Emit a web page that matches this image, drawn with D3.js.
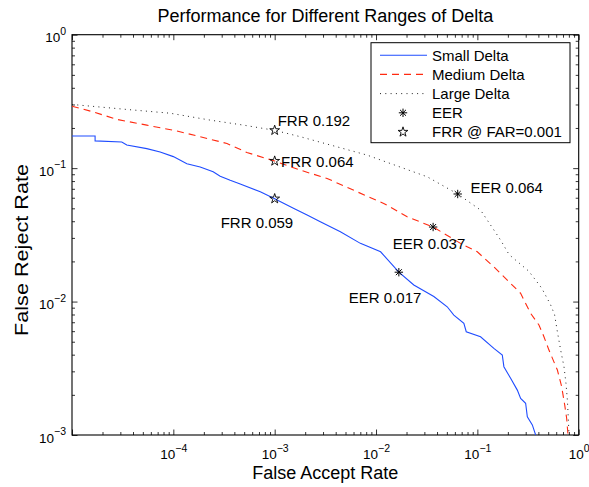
<!DOCTYPE html>
<html>
<head>
<meta charset="utf-8">
<script src="https://cdn.jsdelivr.net/npm/d3@7"></script>
<style>
  body { margin: 0; background: white; }
  svg { display: block; font-family: "Liberation Sans", Arial, Helvetica, sans-serif; }
</style>
</head>
<body>
<div id="chart"></div>
<script>
// Data (FAR, FRR pairs)
const smallFAR = [1e-5, 1.69e-5, 1.69e-5, 3.1e-5, 3.47e-5, 5.47e-5, 7.41e-5, 1.0e-4, 1.36e-4, 1.84e-4, 2.47e-4, 2.9e-4, 3.64e-4, 4.57e-4, 7.21e-4, 1.0e-3, 1.53e-3, 2.09e-3, 2.82e-3, 4.45e-3, 7.01e-3, 0.0111, 0.0168, 0.0236, 0.0372, 0.0504, 0.0586, 0.0736, 0.0777, 0.1075, 0.1455, 0.1762, 0.1827, 0.2129, 0.2479, 0.2673, 0.2995, 0.3113, 0.3487, 0.3759];
const smallFRR = [0.174, 0.174, 0.160, 0.157, 0.149, 0.140, 0.132, 0.122, 0.108, 0.102, 0.094, 0.087, 0.081, 0.076, 0.0665, 0.059, 0.050, 0.0445, 0.0396, 0.0333, 0.0273, 0.0236, 0.0166, 0.0133, 0.0109, 0.00914, 0.00792, 0.00687, 0.00594, 0.00545, 0.00446, 0.00398, 0.00325, 0.00266, 0.00217, 0.00188, 0.00173, 0.00137, 0.00119, 0.001];

const mediumFAR = [1e-5, 1.62e-5, 2.76e-5, 5.47e-5, 1.08e-4, 1.84e-4, 3.38e-4, 5.32e-4, 1.0e-3, 1.79e-3, 3.29e-3, 6.5e-3, 0.01192, 0.0203, 0.0366, 0.0682, 0.0998, 0.1455, 0.1974, 0.2673, 0.288, 0.3355, 0.4053, 0.454, 0.5086, 0.6161, 0.6792, 0.7275, 0.761, 0.784];
const mediumFRR = [0.291, 0.264, 0.232, 0.210, 0.190, 0.172, 0.153, 0.131, 0.113, 0.0966, 0.0837, 0.0665, 0.0544, 0.0432, 0.0362, 0.0273, 0.0236, 0.0182, 0.01449, 0.01152, 0.01026, 0.00816, 0.00667, 0.00545, 0.00433, 0.00307, 0.0023, 0.00168, 0.00133, 0.001];

const largeFAR = [1e-5, 3.47e-5, 9.3e-5, 2.31e-4, 4.93e-4, 1.0e-3, 1.79e-3, 8.17e-3, 0.032, 0.064, 0.1075, 0.1696, 0.2055, 0.3215, 0.4318, 0.5267, 0.5776, 0.6161, 0.6639, 0.7159, 0.7489, 0.7731, 0.791, 0.802];
const largeFRR = [0.30, 0.2753, 0.258, 0.229, 0.210, 0.192, 0.172, 0.1252, 0.0861, 0.064, 0.0485, 0.0289, 0.0225, 0.0169, 0.0126, 0.0095, 0.0080, 0.00594, 0.00433, 0.00325, 0.00244, 0.00183, 0.0013, 0.001];

// marker points: Large, Medium, Small
const eerFAR = [0.064, 0.0366, 0.0168];
const eerFRR = [0.064, 0.0362, 0.0166];
const eerLabels = ["EER 0.064", "EER 0.037", "EER 0.017"];
const frrFAR = [0.001, 0.001, 0.001];
const frrFRR = [0.192, 0.113, 0.059];
const frrLabels = ["FRR 0.192", "FRR 0.064", "FRR 0.059"];

const seriesNames = ["Small Delta", "Medium Delta", "Large Delta"];
const legendExtra = ["EER", "FRR @ FAR=0.001"];
const xTickExps = [-4, -3, -2, -1, 0];
const yTickExps = [-3, -2, -1, 0];

const width = 589, height = 487;
const margin = { top: 34.7, right: 10.3, bottom: 52, left: 72 };

const svg = d3.select("#chart").append("svg")
  .attr("width", width)
  .attr("height", height)
  .style("background-color", "white");

const x = d3.scaleLog().domain([1e-5, 1]).range([margin.left, width - margin.right]);
const y = d3.scaleLog().domain([1e-3, 1]).range([height - margin.bottom, margin.top]);

const x0 = x.range()[0], x1 = x.range()[1];
const y0 = y.range()[0], y1 = y.range()[1];

svg.append("clipPath").attr("id", "plotclip")
  .append("rect").attr("x", x0).attr("y", y1).attr("width", x1 - x0).attr("height", y0 - y1);

// tick values
const majorX = d3.range(-5, 1).map(e => Math.pow(10, e));
const majorY = d3.range(-3, 1).map(e => Math.pow(10, e));
const minorOf = majors => majors.slice(0, -1).flatMap(m => d3.range(2, 10).map(k => k * m));
const minorX = minorOf(majorX);
const minorY = minorOf(majorY);

function tickAxis(axisFn, scale, values, size, translate) {
  const g = svg.append("g")
    .attr("transform", translate)
    .call(axisFn(scale).tickValues(values).tickSize(size).tickFormat(""));
  g.select(".domain").remove();
  g.selectAll("line").attr("stroke", "#000").attr("stroke-width", 0.8);
  return g;
}

// inward ticks on all four sides
tickAxis(d3.axisBottom, x, majorX, -5.5, `translate(0,${y0})`);
tickAxis(d3.axisBottom, x, minorX, -3, `translate(0,${y0})`);
tickAxis(d3.axisTop, x, majorX, -5.5, `translate(0,${y1})`);
tickAxis(d3.axisTop, x, minorX, -3, `translate(0,${y1})`);
tickAxis(d3.axisLeft, y, majorY, -5.5, `translate(${x0},0)`);
tickAxis(d3.axisLeft, y, minorY, -3, `translate(${x0},0)`);
tickAxis(d3.axisRight, y, majorY, -5.5, `translate(${x1},0)`);
tickAxis(d3.axisRight, y, minorY, -3, `translate(${x1},0)`);

// tick labels with superscript exponents
function addExponent(sel) {
  sel.each(function (d) {
    const e = Math.round(Math.log10(d));
    d3.select(this).append("tspan")
      .attr("dy", -7.5).attr("font-size", 10.5)
      .text(e < 0 ? "\u2212" + Math.abs(e) : String(e));
  });
}

const xLabels = svg.append("g")
  .attr("transform", `translate(0,${y0})`)
  .call(d3.axisBottom(x).tickValues(xTickExps.map(e => Math.pow(10, e))).tickSize(0).tickPadding(0).tickFormat(() => "10"));
xLabels.select(".domain").remove();
xLabels.selectAll(".tick text")
  .attr("y", 24).attr("dy", 0)
  .attr("font-size", 13.5).attr("fill", "#000")
  .call(addExponent);
xLabels.attr("font-family", null);

const yLabels = svg.append("g")
  .attr("transform", `translate(${x0},0)`)
  .call(d3.axisLeft(y).tickValues(yTickExps.map(e => Math.pow(10, e))).tickSize(0).tickPadding(0).tickFormat(() => "10"));
yLabels.select(".domain").remove();
yLabels.selectAll(".tick text")
  .attr("x", -6).attr("dy", 0).attr("y", 7)
  .attr("font-size", 13.5).attr("fill", "#000")
  .call(addExponent);
yLabels.attr("font-family", null);

// box
svg.append("rect")
  .attr("x", x0).attr("y", y1)
  .attr("width", x1 - x0).attr("height", y0 - y1)
  .attr("fill", "none").attr("stroke", "#000").attr("stroke-width", 1.1);

// curves
const styles = [
  { color: "#1f4cff", dash: null, width: 1.1 },
  { color: "#ff2a10", dash: "7,5", width: 1.1 },
  { color: "#222", dash: "1,4.3", width: 1 }
];
const curves = [
  d3.zip(smallFAR, smallFRR),
  d3.zip(mediumFAR, mediumFRR),
  d3.zip(largeFAR, largeFRR)
];

const lineGenerator = d3.line()
  .x(d => x(d[0]))
  .y(d => y(d[1]));

const plot = svg.append("g").attr("clip-path", "url(#plotclip)");
curves.forEach((c, i) => {
  plot.append("path")
    .attr("d", lineGenerator(c))
    .attr("fill", "none")
    .attr("stroke", styles[i].color)
    .attr("stroke-width", styles[i].width)
    .attr("stroke-dasharray", styles[i].dash);
});

// marker shapes
function asteriskPath(r) {
  let p = "";
  [0, 45, 90, 135].forEach(a => {
    const rad = a * Math.PI / 180;
    const dx = r * Math.cos(rad), dy = r * Math.sin(rad);
    p += `M${-dx},${-dy}L${dx},${dy}`;
  });
  return p;
}
const starPath = d3.symbol().type(d3.symbolStar).size(30)();

const eerPts = d3.zip(eerFAR, eerFRR);
const frrPts = d3.zip(frrFAR, frrFRR);

svg.selectAll(".eer").data(eerPts).join("path")
  .attr("class", "eer")
  .attr("transform", d => `translate(${x(d[0])},${y(d[1])})`)
  .attr("d", asteriskPath(4.2))
  .attr("stroke", "#000").attr("stroke-width", 1).attr("fill", "none");

svg.selectAll(".frr").data(frrPts).join("path")
  .attr("class", "frr")
  .attr("transform", d => `translate(${x(d[0])},${y(d[1])})`)
  .attr("d", starPath)
  .attr("stroke", "#000").attr("stroke-width", 0.9).attr("fill", "none");

// annotation text, offset in px from its marker
const eerOffsets = [[12.7, -0.7], [-40.4, 22], [-50, 31.3]];
const frrOffsets = [[3, -4], [6.4, 5.7], [-54, 29]];

svg.selectAll(".eerlab").data(eerPts).join("text")
  .attr("class", "eerlab")
  .attr("x", (d, i) => x(d[0]) + eerOffsets[i][0])
  .attr("y", (d, i) => y(d[1]) + eerOffsets[i][1])
  .attr("font-size", 15)
  .text((d, i) => eerLabels[i]);

svg.selectAll(".frrlab").data(frrPts).join("text")
  .attr("class", "frrlab")
  .attr("x", (d, i) => x(d[0]) + frrOffsets[i][0])
  .attr("y", (d, i) => y(d[1]) + frrOffsets[i][1])
  .attr("font-size", 15)
  .text((d, i) => frrLabels[i]);

// legend
const legend = svg.append("g").attr("transform", "translate(371,42.7)");
legend.append("rect")
  .attr("width", 199).attr("height", 100)
  .attr("fill", "white").attr("stroke", "#000").attr("stroke-width", 1);
const rowY = i => 12.5 + i * 19.2;
seriesNames.forEach((name, i) => {
  legend.append("line")
    .attr("x1", 9).attr("x2", 56)
    .attr("y1", rowY(i)).attr("y2", rowY(i))
    .attr("stroke", styles[i].color)
    .attr("stroke-width", styles[i].width)
    .attr("stroke-dasharray", styles[i].dash);
  legend.append("text")
    .attr("x", 61).attr("y", rowY(i) + 5.4)
    .attr("font-size", 15)
    .text(name);
});
legend.append("path")
  .attr("transform", `translate(32,${rowY(3)})`)
  .attr("d", asteriskPath(4.2))
  .attr("stroke", "#000").attr("stroke-width", 1).attr("fill", "none");
legend.append("path")
  .attr("transform", `translate(32,${rowY(4)})`)
  .attr("d", starPath)
  .attr("stroke", "#000").attr("stroke-width", 0.9).attr("fill", "none");
legendExtra.forEach((name, j) => {
  legend.append("text")
    .attr("x", 61).attr("y", rowY(3 + j) + 5.4)
    .attr("font-size", 15)
    .text(name);
});

// title and axis labels
const cx = (x0 + x1) / 2;
svg.append("text")
  .attr("x", cx).attr("y", 22)
  .attr("text-anchor", "middle")
  .attr("font-size", 18)
  .text("Performance for Different Ranges of Delta");

svg.append("text")
  .attr("x", cx).attr("y", 479)
  .attr("text-anchor", "middle")
  .attr("font-size", 18)
  .text("False Accept Rate");

svg.append("text")
  .attr("transform", `translate(28,250) rotate(-90)`)
  .attr("text-anchor", "middle")
  .attr("font-size", 19)
  .attr("textLength", 172)
  .attr("lengthAdjust", "spacingAndGlyphs")
  .text("False Reject Rate");
</script>
</body>
</html>
